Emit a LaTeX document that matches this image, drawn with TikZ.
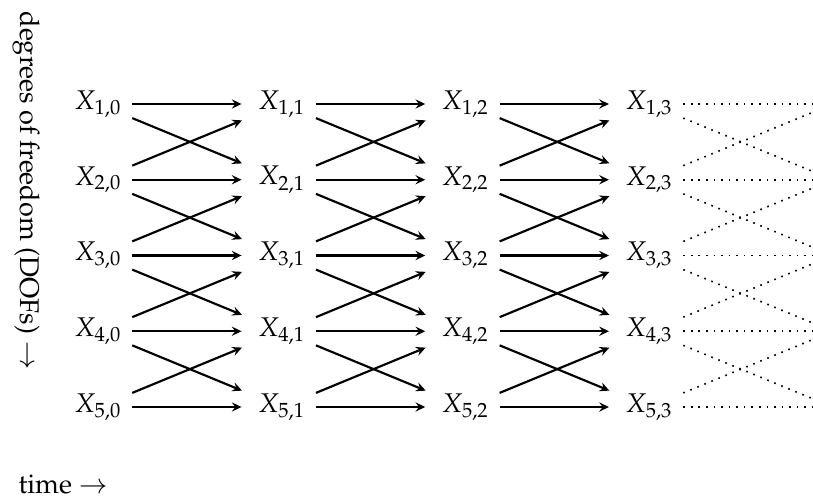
\documentclass[tikz,border=0pt]{standalone}
\usepackage[T1]{fontenc}
\usepackage{mathpazo}
\usetikzlibrary{arrows.meta}

\begin{document}
\begin{tikzpicture}[x=0.37pt,y=-0.37pt,>={Stealth[length=3.6pt,width=3.4pt,inset=1.3pt]},
    var/.style={inner sep=3.7pt},
    flow/.style={->,thick,shorten >=2.2pt},
    ahead/.style={line width=0.6pt,dash pattern=on \pgflinewidth off 2.2pt}]
  \useasboundingbox (0,0) rectangle (813,503);
  \clip (0,0) rectangle (813,503);
  % axis labels
  \node[inner sep=0pt,anchor=west] (tlab) at (18,484) {time $\rightarrow$};
  \node[inner sep=0pt,anchor=west,rotate=-90] (dlab) at (26,11) {degrees of freedom (DOFs) $\rightarrow$};
  % variables
  \foreach \j in {0,...,3}
    \foreach \i in {1,...,5}
      \node[var] (X\i\j) at ({98+183.7*\j},{104+75.75*(\i-1)}) {$X_{\i,\j}$};
  \foreach \i in {1,...,5}
    \coordinate (X\i4) at ({98+183.7*4},{104+75.75*(\i-1)});
  % transitions
  \foreach \j [evaluate=\j as \k using int(\j+1)] in {0,1,2} {
    \foreach \i in {1,...,5}
      \draw[flow] (X\i\j) -- (X\i\k);
    \foreach \i [evaluate=\i as \n using int(\i+1)] in {1,...,4} {
      \draw[flow] (X\i\j) -- (X\n\k);
      \draw[flow] (X\n\j) -- (X\i\k);
    }
  }
  % continuation
  \foreach \i in {1,...,5}
    \draw[ahead] (X\i3) -- (X\i4);
  \foreach \i [evaluate=\i as \n using int(\i+1)] in {1,...,4} {
    \draw[ahead] (X\i3) -- (X\n4);
    \draw[ahead] (X\n3) -- (X\i4);
  }
\end{tikzpicture}
\end{document}
